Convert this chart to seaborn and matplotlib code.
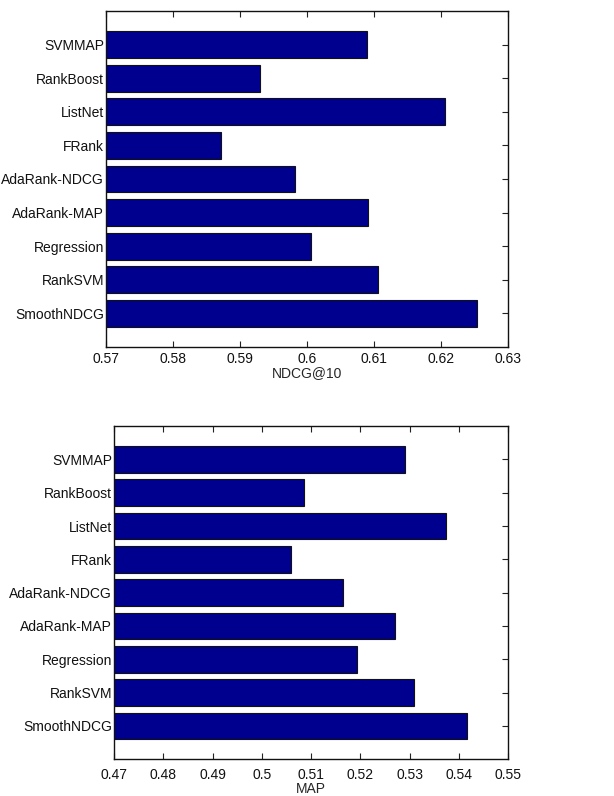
import matplotlib
matplotlib.use("Agg")
import matplotlib.pyplot as plt
import pandas as pd
import seaborn as sns

methods = ["SVMMAP", "RankBoost", "ListNet", "FRank", "AdaRank-NDCG",
           "AdaRank-MAP", "Regression", "RankSVM", "SmoothNDCG"]
ndcg10 = [0.6089, 0.5930, 0.6206, 0.5872, 0.5982, 0.6091, 0.6006, 0.6106, 0.6254]
map_scores = [0.5291, 0.5085, 0.5374, 0.5060, 0.5164, 0.5271, 0.5193, 0.5309, 0.5416]

ndcg_ticks = [0.57, 0.58, 0.59, 0.6, 0.61, 0.62, 0.63]
ndcg_ticklabels = ["0.57", "0.58", "0.59", "0.6", "0.61", "0.62", "0.63"]
map_ticks = [0.47, 0.48, 0.49, 0.5, 0.51, 0.52, 0.53, 0.54, 0.55]
map_ticklabels = ["0.47", "0.48", "0.49", "0.5", "0.51", "0.52", "0.53", "0.54", "0.55"]

sns.set_theme(style="white")
plt.rcParams["font.family"] = ["Liberation Sans", "DejaVu Sans"]

BAR_COLOR = "#00008F"
FS = 10

fig = plt.figure(figsize=(6.14, 7.96), dpi=100)
ax_top = fig.add_axes([0.1726, 0.5641, 0.8274 - 0.1726, 0.9862 - 0.5641])
ax_bot = fig.add_axes([0.1857, 0.0461, 0.8274 - 0.1857, 0.4648 - 0.0461])


def draw(ax, values, ticks, ticklabels, xlabel, xpad):
    df = pd.DataFrame({"method": methods, "score": values})
    sns.barplot(data=df, x="score", y="method", orient="h", ax=ax,
                color=BAR_COLOR, saturation=1, width=0.8,
                edgecolor="#111111", linewidth=0.8)
    ax.set_xlim(ticks[0], ticks[-1])
    ax.set_ylim(9, -1)
    ax.set_xticks(ticks)
    ax.set_xticklabels(ticklabels, fontsize=FS)
    ax.set_yticks(range(len(methods)))
    ax.set_yticklabels(methods, fontsize=FS)
    ax.set_ylabel("")
    ax.set_xlabel(xlabel, fontsize=FS, labelpad=0)
    ax.tick_params(direction="in", length=4, width=0.8, color="#222222",
                   top=True, right=True, left=True, bottom=True,
                   labelcolor="#111111")
    ax.tick_params(axis="x", pad=xpad)
    ax.tick_params(axis="y", pad=1.5)
    for s in ax.spines.values():
        s.set_visible(True)
        s.set_color("#111111")
        s.set_linewidth(1.0)


draw(ax_top, ndcg10, ndcg_ticks, ndcg_ticklabels, "NDCG@10", 3.5)
draw(ax_bot, map_scores, map_ticks, map_ticklabels, "MAP", 6.5)

fig.savefig("out.png", dpi=100, facecolor="white")
